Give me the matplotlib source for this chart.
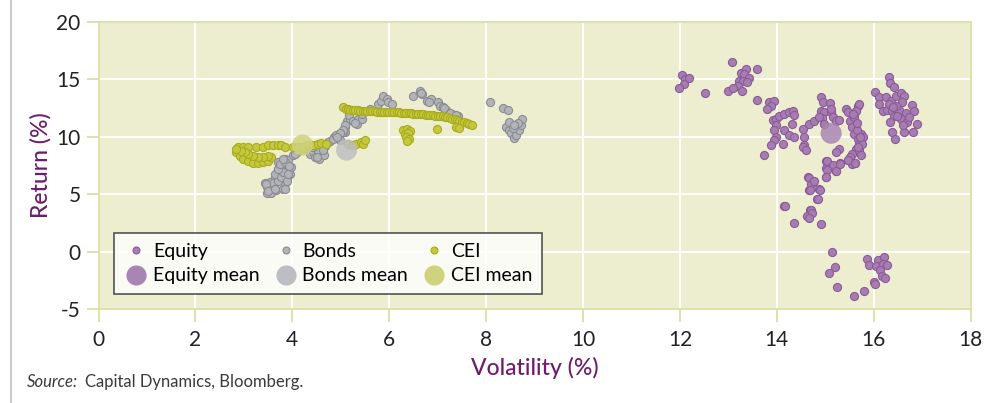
import matplotlib.pyplot as plt
from matplotlib.lines import Line2D

plt.rcParams["font.family"] = ["Lato", "DejaVu Sans"]
plt.rcParams["axes.unicode_minus"] = False

# ---- data (volatility %, return %) ----
equity_x = [12.05, 12.11, 12.18, 12.09, 11.99, 13.07, 13.26, 13.36, 13.33, 13.43,
            13.22, 13.31, 13.19, 13.00, 13.10, 13.27, 13.39, 13.60, 12.52, 13.59,
            13.84, 13.94, 13.88, 13.79, 13.91, 13.98, 14.05, 14.15, 14.24, 14.34,
            14.36, 13.98, 13.94, 13.98, 13.94, 13.88, 14.12, 13.74, 14.15, 14.24,
            14.36, 14.31, 14.53, 14.55, 14.56, 14.53, 14.60, 14.67, 14.77, 14.91,
            14.96, 15.10, 14.91, 14.98, 14.93, 14.98, 15.11, 15.15, 15.22, 15.29,
            15.11, 14.87, 15.43, 15.46, 15.50, 15.56, 15.60, 15.67, 15.70, 15.63,
            15.56, 15.50, 15.46, 15.56, 15.62, 15.67, 15.70, 15.63, 15.60, 15.73,
            15.78, 15.75, 15.70, 15.29, 15.23, 15.02, 15.09, 15.01, 15.22, 15.30,
            15.01, 14.65, 14.74, 14.67, 14.87, 14.82, 14.69, 14.63, 14.15, 16.02,
            16.10, 16.32, 16.33, 16.42, 16.11, 16.25, 16.35, 16.45, 16.56, 16.63,
            16.18, 16.28, 16.38, 16.52, 16.66, 16.78, 16.83, 16.42, 16.56, 16.69,
            16.90, 16.33, 16.38, 16.44, 16.63, 16.80, 16.59, 16.45, 16.32, 16.72,
            15.04, 15.16, 15.04, 15.01, 15.23, 15.30, 15.47, 15.61, 14.66, 14.71,
            14.77, 14.68, 14.89, 14.84, 14.17, 14.71, 14.72, 14.66, 14.36, 14.92,
            15.13, 15.19, 15.08, 15.25, 15.60, 15.79, 15.87, 15.90, 16.08, 16.21,
            16.05, 16.18, 16.27, 16.12, 16.16, 16.23, 16.01, 16.03, 15.66, 15.72,
            15.68, 15.74, 15.65, 15.58, 16.48, 16.40, 16.60]
equity_y = [15.34, 15.00, 15.14, 14.57, 14.22, 16.49, 15.57, 15.86, 15.43, 15.14,
            14.86, 14.86, 14.43, 14.00, 14.20, 14.00, 14.80, 15.86, 13.79, 13.19,
            12.99, 13.13, 12.70, 12.41, 11.47, 11.55, 11.84, 11.98, 12.13, 12.27,
            11.93, 10.98, 10.55, 9.97, 9.68, 9.25, 9.34, 8.45, 10.60, 10.11,
            9.97, 11.12, 10.69, 9.97, 9.25, 9.11, 8.82, 11.12, 11.41, 13.48,
            12.99, 12.93, 12.27, 12.13, 11.64, 11.12, 12.13, 11.70, 11.41, 11.47,
            12.41, 11.70, 12.41, 12.13, 11.41, 10.83, 10.26, 9.83, 9.40, 8.97,
            8.53, 8.25, 7.96, 7.67, 7.73, 12.70, 12.84, 12.27, 11.70, 10.26,
            9.97, 9.40, 8.82, 8.97, 8.68, 7.90, 7.52, 7.24, 7.04, 7.73,
            6.52, 6.47, 6.09, 5.37, 5.43, 4.60, 3.65, 3.07, 4.02, 13.85,
            13.42, 15.23, 14.63, 14.28, 12.84, 13.42, 13.13, 13.56, 13.76, 13.56,
            12.21, 12.33, 12.27, 12.33, 12.04, 12.79, 12.21, 11.84, 11.55, 11.26,
            11.12, 11.26, 10.40, 9.77, 10.40, 10.40, 12.99, 12.70, 12.84, 11.70,
            7.87, 7.50, 7.13, 6.49, 6.99, 7.64, 7.99, 7.70, 6.44, 5.92,
            6.12, 5.40, 5.40, 4.57, 3.99, 3.62, 3.39, 2.96, 2.47, 2.41,
            -0.03, -1.35, -1.84, -3.07, -3.85, -3.42, -0.63, -1.12, -0.75, -0.49,
            -1.26, -1.03, -1.18, -1.55, -2.07, -2.27, -2.61, -2.84, 10.60, 10.00,
            9.10, 8.40, 11.20, 12.00, 11.80, 12.60, 11.00]

bonds_x = [3.47, 3.57, 3.47, 3.53, 3.43, 3.67, 3.81, 3.84, 3.64, 3.74,
           3.81, 3.78, 3.88, 3.95, 3.98, 3.71, 3.84, 3.91, 4.02, 4.09,
           4.19, 3.71, 3.60, 3.88, 3.46, 3.50, 3.64, 3.70, 3.64, 3.77,
           3.88, 3.81, 3.70, 3.74, 3.84, 3.94, 3.81, 3.91, 3.84, 4.05,
           4.25, 4.36, 4.43, 4.46, 4.56, 4.65, 4.67, 4.77, 4.87, 4.94,
           5.00, 5.08, 4.53, 4.43, 4.50, 4.64, 4.40, 4.74, 4.84, 4.91,
           4.98, 5.05, 5.08, 5.12, 5.19, 5.16, 5.26, 5.33, 5.36, 5.43,
           5.43, 5.60, 5.77, 5.84, 5.88, 5.95, 5.98, 6.05, 6.49, 6.64,
           6.68, 6.77, 6.87, 7.01, 7.04, 7.11, 7.18, 7.29, 7.42, 8.08,
           8.34, 8.45, 8.41, 8.48, 8.51, 8.58, 8.62, 8.68, 8.72, 8.74,
           8.65, 8.55, 8.48, 8.58, 6.66, 6.82, 7.14, 7.25, 7.38, 5.29,
           5.09, 5.05, 4.99, 4.92]
bonds_y = [5.13, 5.07, 5.65, 6.08, 5.94, 5.36, 5.50, 5.94, 6.51, 6.66,
           7.09, 7.52, 7.67, 6.80, 7.38, 7.81, 8.10, 7.95, 8.39, 8.67,
           9.11, 7.23, 5.94, 6.37, 5.88, 5.30, 5.45, 6.17, 6.75, 6.46,
           6.17, 6.90, 7.19, 7.62, 7.77, 7.48, 8.06, 6.75, 5.45, 8.49,
           8.93, 8.49, 8.64, 8.20, 8.06, 8.43, 9.22, 9.65, 9.94, 10.09,
           10.29, 10.43, 8.78, 9.07, 8.24, 8.82, 9.11, 9.54, 9.83, 10.12,
           9.68, 10.40, 10.84, 11.41, 11.56, 11.85, 11.41, 11.12, 11.56, 11.56,
           11.99, 12.42, 12.85, 13.14, 13.57, 13.29, 13.00, 12.85, 13.57, 14.00,
           13.72, 13.14, 13.29, 13.00, 12.71, 12.56, 12.28, 11.99, 11.84, 13.00,
           12.46, 12.31, 10.87, 10.58, 10.29, 9.86, 10.15, 10.58, 11.01, 11.50,
           11.16, 10.72, 11.30, 11.01, 13.76, 13.04, 12.46, 12.02, 11.88, 11.16,
           11.01, 10.58, 10.29, 10.00]

cei_x = [2.88, 2.98, 3.09, 3.26, 3.39, 3.50, 3.60, 3.71, 3.77, 3.84,
         4.01, 4.12, 4.22, 4.32, 4.43, 4.53, 4.60, 4.70, 2.84, 2.91,
         2.98, 3.09, 3.19, 3.29, 3.39, 3.50, 3.57, 3.50, 3.39, 3.29,
         3.19, 3.09, 3.02, 2.95, 2.84, 5.15, 5.25, 5.32, 5.42, 5.46,
         5.49, 5.05, 5.10, 5.15, 5.20, 5.25, 5.30, 5.35, 5.40, 5.45,
         5.50, 5.55, 5.60, 5.65, 5.70, 5.75, 5.80, 5.85, 5.90, 5.95,
         6.00, 6.05, 6.10, 6.15, 6.20, 6.25, 6.30, 6.35, 6.40, 6.45,
         6.50, 6.55, 6.60, 6.65, 6.70, 6.75, 6.80, 6.85, 6.90, 6.95,
         7.00, 7.05, 7.10, 7.15, 7.20, 7.25, 7.30, 7.35, 7.40, 7.45,
         7.50, 7.55, 7.60, 7.65, 7.70, 7.38, 7.44, 6.29, 6.36, 6.42,
         6.32, 6.39, 6.34, 6.41, 6.37, 6.99]
cei_y = [9.07, 9.15, 9.15, 9.15, 9.15, 9.24, 9.24, 9.24, 9.24, 9.15,
         9.07, 9.07, 9.15, 9.24, 9.24, 9.38, 9.44, 9.40, 8.64, 8.35,
         8.06, 7.86, 7.68, 7.68, 7.77, 7.91, 8.20, 8.35, 8.26, 8.20,
         8.35, 8.49, 8.64, 8.78, 8.93, 9.36, 9.30, 9.40, 9.54, 9.40,
         9.68, 12.55, 12.45, 12.40, 12.36, 12.33, 12.31, 12.29, 12.27, 12.26,
         12.25, 12.23, 12.22, 12.21, 12.20, 12.19, 12.18, 12.18, 12.17, 12.17,
         12.16, 12.15, 12.14, 12.13, 12.11, 12.10, 12.08, 12.06, 12.04, 12.03,
         12.01, 12.00, 11.98, 11.96, 11.94, 11.92, 11.90, 11.88, 11.86, 11.84,
         11.82, 11.80, 11.76, 11.72, 11.68, 11.62, 11.56, 11.50, 11.43, 11.37,
         11.32, 11.27, 11.19, 11.12, 11.05, 10.87, 10.72, 10.58, 10.64, 10.52,
         10.23, 10.29, 9.94, 9.77, 9.66, 10.64]

mean_x = [15.12, 5.12, 4.21]
mean_y = [10.30, 8.84, 9.28]
series_names = ["Equity", "Bonds", "CEI"]

dot_face = ["#a57db0", "#b3b4ba", "#c4c83c"]
dot_edge = ["#8c5a9a", "#8b8c92", "#a8ac1e"]
mean_face = ["#a886b3", "#bdbec3", "#cfd27e"]

fig = plt.figure(figsize=(10, 4.03), dpi=100)
ax = fig.add_axes([0.0985, 0.2325, 0.8722, 0.7137])
ax.set_facecolor("#ededcf")

for xs, ys, fc, ec in zip([equity_x, bonds_x, cei_x], [equity_y, bonds_y, cei_y],
                          dot_face, dot_edge):
    ax.scatter(xs, ys, s=34, c=fc, edgecolors=ec, linewidths=0.8, zorder=3)

for mx, my, fc in zip(mean_x, mean_y, mean_face):
    ax.scatter([mx], [my], s=230, c=fc, edgecolors="none", alpha=0.85, zorder=4)

ax.set_xlim(0, 18)
ax.set_ylim(-5, 20)
ax.set_xticks(range(0, 19, 2))
ax.set_yticks(range(-5, 21, 5))
ax.grid(True, color="white", linewidth=1.3)
ax.set_axisbelow(True)

olive = "#dcdea4"
for sp in ax.spines.values():
    sp.set_color(olive)
    sp.set_linewidth(1.3)
ax.tick_params(axis="both", colors=olive, labelcolor="#222222", labelsize=15,
               length=9, width=1.3)
ax.tick_params(axis="y", pad=4)
ax.tick_params(axis="x", pad=6)

purple = "#6d1d6b"
ax.set_xlabel("Volatility (%)", color=purple, fontsize=16.5, fontweight="medium",
              labelpad=5)
ax.set_ylabel("Return (%)", color=purple, fontsize=16.5, fontweight="medium",
              labelpad=3)

handles = []
labels = []
for name, fc, ec, mc in zip(series_names, dot_face, dot_edge, mean_face):
    handles.append(Line2D([], [], linestyle="none", marker="o", markersize=5,
                          markerfacecolor=fc, markeredgecolor=ec, markeredgewidth=0.8))
    labels.append(name)
    handles.append(Line2D([], [], linestyle="none", marker="o", markersize=14.5,
                          markerfacecolor=mc, markeredgecolor="none"))
    labels.append(name + " mean")
leg = ax.legend(handles, labels, ncol=3, loc="lower left",
                bbox_to_anchor=(0.0178, 0.053), borderaxespad=0, fontsize=14,
                frameon=True, fancybox=False, handletextpad=0.2,
                columnspacing=0.7, labelspacing=0.4, borderpad=0.5,
                handlelength=1.3)
leg.get_frame().set_edgecolor("#2a2a2a")
leg.get_frame().set_linewidth(1.2)
leg.set_zorder(5)

fig.add_artist(Line2D([0.011, 0.011], [0, 1], color="#cccccc", linewidth=1.5))
fig.text(0.027, 0.052, "Source:", style="italic", fontsize=12, color="#3a3a3a",
         va="center")
fig.text(0.085, 0.052, "Capital Dynamics, Bloomberg.", fontsize=12,
         color="#3a3a3a", va="center")

fig.savefig("out.png", dpi=100)
